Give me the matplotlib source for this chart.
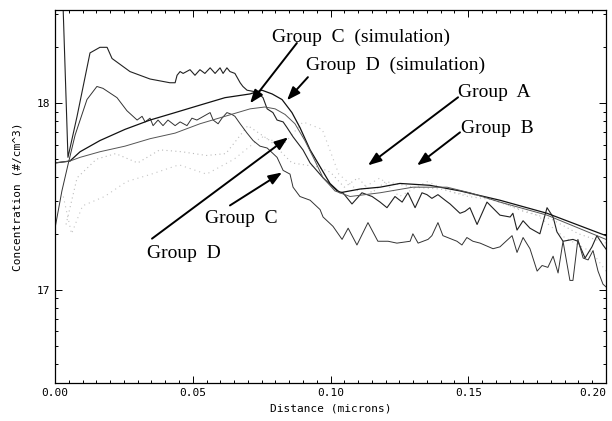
import matplotlib
matplotlib.use("Agg")
import matplotlib.pyplot as plt
import numpy as np

# distance (microns) / log10 concentration (#/cm^3)
grp_d_x = [0.0029, 0.0047, 0.0080, 0.0127, 0.0163, 0.0189, 0.0207, 0.0272, 0.0345, 0.0417,
           0.0436, 0.0443, 0.0454, 0.0465, 0.0490, 0.0508, 0.0526, 0.0544, 0.0563, 0.0581,
           0.0599, 0.0610, 0.0624, 0.0635, 0.0653, 0.0672, 0.0682, 0.0697, 0.0733, 0.0755,
           0.0770, 0.0791, 0.0806, 0.0828, 0.0842, 0.0864, 0.0900, 0.0926, 0.0973, 0.1009,
           0.1024, 0.1045, 0.1078, 0.1096, 0.1114, 0.1151, 0.1180, 0.1205, 0.1234, 0.1260,
           0.1281, 0.1307, 0.1332, 0.1350, 0.1368, 0.1390, 0.1416, 0.1434, 0.1470, 0.1488,
           0.1506, 0.1532, 0.1568, 0.1615, 0.1652, 0.1662, 0.1677, 0.1699, 0.1724, 0.1760,
           0.1786, 0.1808, 0.1822, 0.1844, 0.1880, 0.1898, 0.1924, 0.1949, 0.1967, 0.1989,
           0.2004]
grp_d_y = [18.53, 17.71, 17.93, 18.27, 18.30, 18.30, 18.24, 18.17, 18.13, 18.11,
           18.11, 18.15, 18.17, 18.16, 18.18, 18.15, 18.18, 18.16, 18.19, 18.16,
           18.19, 18.16, 18.19, 18.17, 18.16, 18.11, 18.09, 18.07, 18.06, 18.03,
           17.97, 17.95, 17.91, 17.90, 17.87, 17.82, 17.75, 17.68, 17.60, 17.55,
           17.53, 17.52, 17.46, 17.49, 17.52, 17.50, 17.47, 17.44, 17.50, 17.47,
           17.52, 17.44, 17.52, 17.51, 17.49, 17.51, 17.48, 17.46, 17.41, 17.42,
           17.44, 17.35, 17.47, 17.40, 17.39, 17.41, 17.32, 17.37, 17.33, 17.30,
           17.44, 17.39, 17.31, 17.26, 17.27, 17.26, 17.17, 17.23, 17.29, 17.24,
           17.21]

grp_c_x = [0.0, 0.0025, 0.0047, 0.0073, 0.0116, 0.0152, 0.0174, 0.0225, 0.0261, 0.0298,
           0.0316, 0.0327, 0.0345, 0.0356, 0.0374, 0.0392, 0.0410, 0.0436, 0.0454, 0.0479,
           0.0497, 0.0515, 0.0563, 0.0574, 0.0592, 0.0606, 0.0624, 0.0642, 0.0653, 0.0672,
           0.0697, 0.0719, 0.0744, 0.0770, 0.0806, 0.0828, 0.0853, 0.0864, 0.0889, 0.0926,
           0.0962, 0.0973, 0.1009, 0.1042, 0.1064, 0.1096, 0.1136, 0.1172, 0.1209, 0.1241,
           0.1289, 0.1299, 0.1318, 0.1354, 0.1368, 0.1390, 0.1408, 0.1459, 0.1477, 0.1495,
           0.1517, 0.1543, 0.1590, 0.1615, 0.1659, 0.1677, 0.1699, 0.1724, 0.1750, 0.1768,
           0.1789, 0.1808, 0.1826, 0.1844, 0.1869, 0.1880, 0.1898, 0.1917, 0.1935, 0.1953,
           0.1971, 0.1989, 0.2004]
grp_c_y = [17.33, 17.53, 17.67, 17.83, 18.02, 18.09, 18.08, 18.03, 17.96, 17.91,
           17.93, 17.90, 17.92, 17.88, 17.91, 17.88, 17.91, 17.88, 17.90, 17.88,
           17.92, 17.91, 17.95, 17.91, 17.89, 17.92, 17.95, 17.94, 17.93, 17.89,
           17.84, 17.80, 17.77, 17.76, 17.71, 17.64, 17.62, 17.55, 17.50, 17.48,
           17.43, 17.39, 17.34, 17.27, 17.33, 17.24, 17.36, 17.26, 17.26, 17.25,
           17.26, 17.30, 17.25, 17.27, 17.29, 17.36, 17.29, 17.26, 17.24, 17.28,
           17.26, 17.25, 17.22, 17.23, 17.29, 17.20, 17.28, 17.22, 17.10, 17.13,
           17.12, 17.18, 17.09, 17.26, 17.05, 17.05, 17.27, 17.17, 17.16, 17.21,
           17.10, 17.03, 17.01]

sim_c_x = [0.0, 0.0054, 0.0091, 0.0163, 0.0254, 0.0345, 0.0436, 0.0526, 0.0617, 0.0708,
           0.0751, 0.0788, 0.0824, 0.0860, 0.0889, 0.0926, 0.0962, 0.0998, 0.1034, 0.1107,
           0.1180, 0.1252, 0.1361, 0.1470, 0.1615, 0.1786, 0.2000]
sim_c_y = [17.68, 17.69, 17.74, 17.80, 17.86, 17.91, 17.95, 17.99, 18.03, 18.05,
           18.07, 18.05, 18.02, 17.95, 17.87, 17.75, 17.66, 17.57, 17.52, 17.54,
           17.55, 17.57, 17.56, 17.53, 17.48, 17.41, 17.29]

sim_d_x = [0.0, 0.0054, 0.0091, 0.0163, 0.0254, 0.0345, 0.0436, 0.0526, 0.0617, 0.0708,
           0.0762, 0.0799, 0.0835, 0.0871, 0.0907, 0.0944, 0.0973, 0.1016, 0.1071, 0.1180,
           0.1299, 0.1423, 0.1506, 0.1615, 0.1786, 0.2000]
sim_d_y = [17.68, 17.69, 17.71, 17.74, 17.77, 17.81, 17.84, 17.89, 17.93, 17.97,
           17.98, 17.97, 17.94, 17.89, 17.80, 17.69, 17.60, 17.53, 17.50, 17.52,
           17.55, 17.55, 17.52, 17.47, 17.40, 17.27]

grp_a_x = [0.004, 0.008, 0.015, 0.022, 0.030, 0.038, 0.046, 0.055, 0.062, 0.070,
           0.078, 0.086, 0.095, 0.100, 0.105, 0.110, 0.115, 0.120, 0.130, 0.140,
           0.150, 0.160, 0.170, 0.180, 0.190, 0.200]
grp_a_y = [17.35, 17.60, 17.70, 17.73, 17.68, 17.75, 17.74, 17.72, 17.73, 17.88,
           17.80, 17.68, 17.66, 17.63, 17.55, 17.60, 17.52, 17.58, 17.55, 17.54,
           17.50, 17.48, 17.42, 17.38, 17.30, 17.25]

grp_b_x = [0.003, 0.006, 0.010, 0.018, 0.026, 0.035, 0.045, 0.055, 0.065, 0.075,
           0.083, 0.090, 0.097, 0.103, 0.110, 0.118, 0.125, 0.135, 0.145, 0.155,
           0.165, 0.175, 0.185, 0.195, 0.200]
grp_b_y = [17.50, 17.30, 17.45, 17.50, 17.58, 17.62, 17.67, 17.62, 17.70, 17.82,
           17.78, 17.90, 17.86, 17.62, 17.53, 17.60, 17.50, 17.58, 17.52, 17.50,
           17.45, 17.40, 17.28, 17.20, 17.10]

mono = "DejaVu Sans Mono"
serif = "Liberation Serif"

fig = plt.figure(figsize=(6.12, 4.21), dpi=100)
ax = fig.add_axes([0.0899, 0.0903, 0.9003, 0.8859])

ax.plot(grp_a_x, grp_a_y, color="#bbbbbb", lw=0.8, ls=(0, (1, 3)))
ax.plot(grp_b_x, grp_b_y, color="#c4c4c4", lw=0.8, ls=(0, (1, 3.5)))
ax.plot(grp_d_x, grp_d_y, color="#222222", lw=0.8)
ax.plot(grp_c_x, grp_c_y, color="#333333", lw=0.7)
ax.plot(sim_c_x, sim_c_y, color="#111111", lw=0.9)
ax.plot(sim_d_x, sim_d_y, color="#555555", lw=0.7)

ax.set_xlim(0, 0.2)
ax.set_ylim(16.5, 18.5)

ax.set_xticks([0, 0.05, 0.10, 0.15, 0.20])
ax.set_xticklabels(["0.00", "0.05", "0.10", "0.15", "0.20"], family=mono, fontsize=8)
ax.get_xticklabels()[-1].set_horizontalalignment("right")
ax.set_xticks(np.arange(0, 0.2001, 0.005), minor=True)
ax.set_yticks([17, 18])
ax.set_yticklabels(["17", "18"], family=mono, fontsize=8)
minor_y = [np.log10(k) + d for d in (16, 17, 18) for k in range(2, 10)]
ax.set_yticks([m for m in minor_y if 16.5 <= m <= 18.5], minor=True)
ax.tick_params(axis="both", which="both", top=True, right=True, direction="in", width=0.7)
ax.tick_params(axis="both", which="major", length=5)
ax.tick_params(axis="both", which="minor", length=2.5)
for s in ax.spines.values():
    s.set_linewidth(0.9)

ax.set_xlabel("Distance (microns)", family=mono, fontsize=8, labelpad=4)
ax.set_ylabel("Concentration (#/cm^3)", family=mono, fontsize=8, labelpad=10)

arrow = dict(arrowstyle="-|>,head_length=0.8,head_width=0.3", color="black", lw=1.4,
             shrinkA=0, shrinkB=0)
ax.annotate("", xy=(0.0708, 18.0), xytext=(0.0878, 18.323), arrowprops=arrow)
ax.annotate("", xy=(0.0842, 18.016), xytext=(0.0918, 18.14), arrowprops=arrow)
ax.annotate("", xy=(0.1136, 17.667), xytext=(0.1463, 18.032), arrowprops=arrow)
ax.annotate("", xy=(0.1314, 17.667), xytext=(0.1470, 17.844), arrowprops=arrow)
ax.annotate("", xy=(0.0846, 17.817), xytext=(0.0352, 17.274), arrowprops=arrow)
ax.annotate("", xy=(0.0824, 17.629), xytext=(0.0635, 17.452), arrowprops=arrow)

txt = dict(family=serif, fontsize=14, va="center", ha="left")
ax.text(0.0788, 18.355, "Group  C  (simulation)", **txt)
ax.text(0.0911, 18.204, "Group  D  (simulation)", **txt)
ax.text(0.1463, 18.059, "Group  A", **txt)
ax.text(0.1474, 17.866, "Group  B", **txt)
ax.text(0.0544, 17.382, "Group  C", **txt)
ax.text(0.0334, 17.194, "Group  D", **txt)

fig.savefig("out.png", dpi=100)
